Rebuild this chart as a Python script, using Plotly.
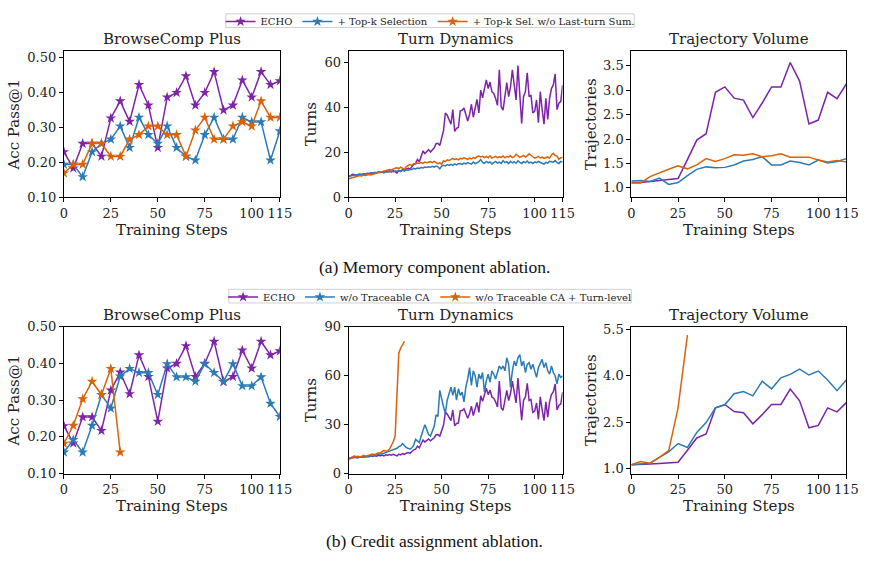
import plotly.graph_objects as go

# ---------------- data ----------------
bc_steps = [0, 5, 10, 15, 20, 25, 30, 35, 40, 45, 50, 55, 60, 65, 70, 75, 80, 85, 90, 95, 100, 105, 110, 115]
turn_steps = list(range(0, 116))
x_tick_vals = [0, 25, 50, 75, 100, 115]

# (a) memory component ablation
bc_echo = [0.230, 0.183, 0.254, 0.254, 0.217, 0.327, 0.376, 0.317, 0.423, 0.364, 0.242, 0.387,
           0.400, 0.448, 0.364, 0.400, 0.460, 0.350, 0.364, 0.436, 0.387, 0.460, 0.423, 0.434]
bc_topk = [0.194, 0.194, 0.158, 0.230, 0.254, 0.266, 0.304, 0.242, 0.329, 0.279, 0.254, 0.304,
           0.242, 0.217, 0.206, 0.279, 0.329, 0.266, 0.266, 0.329, 0.316, 0.316, 0.206, 0.290]
bc_topk_nosum = [0.169, 0.194, 0.194, 0.254, 0.254, 0.217, 0.217, 0.266, 0.279, 0.304, 0.304, 0.279,
                 0.279, 0.217, 0.292, 0.329, 0.266, 0.266, 0.304, 0.316, 0.304, 0.376, 0.329, 0.329]

turns_echo = [9.3, 9.5, 10.2, 10.0, 10.1, 9.8, 10.3, 10.0, 10.4, 10.2,
              10.6, 10.3, 10.8, 10.5, 11.0, 10.7, 11.2, 11.0, 11.3, 10.8,
              11.5, 11.2, 11.7, 11.3, 11.8, 11.4, 10.8, 11.9, 11.5, 12.2,
              11.8, 12.5, 12.9, 12.4, 13.8, 14.6, 15.0, 16.8, 15.8, 18.5,
              20.6, 19.4, 20.5, 21.2, 20.1, 21.0, 22.0, 23.8, 24.0, 23.0,
              25.9, 29.6, 37.5, 36.5, 34.5, 32.5, 39.0, 29.3, 30.7, 31.0,
              38.5, 38.7, 39.7, 37.0, 33.9, 36.8, 41.4, 35.6, 39.0, 43.6,
              37.5, 47.7, 44.3, 49.0, 52.3, 48.4, 51.3, 47.0, 46.2, 44.0,
              40.9, 56.8, 40.3, 38.8, 45.0, 51.0, 44.8, 49.1, 56.7, 50.0,
              43.3, 58.6, 46.2, 32.8, 44.8, 47.0, 55.4, 44.8, 45.5, 37.5,
              38.3, 43.3, 33.2, 47.0, 39.0, 32.5, 44.0, 34.6, 44.0, 48.4,
              50.0, 54.9, 39.0, 41.9, 42.6, 49.9]
turns_topk = [9.3, 9.5, 9.8, 10.0, 9.9, 10.1, 10.2, 10.0, 10.3, 10.4,
              10.2, 10.5, 10.4, 10.7, 10.6, 10.9, 10.8, 11.0, 11.2, 11.0,
              11.3, 11.4, 11.2, 11.5, 11.3, 11.6, 11.4, 11.8, 11.5, 12.0,
              11.7, 12.2, 12.0, 12.4, 12.3, 12.8, 12.6, 13.0, 12.8, 13.2,
              13.0, 13.4, 13.2, 13.5, 13.3, 13.7, 13.4, 13.8, 13.5, 12.6,
              13.8, 14.2, 13.9, 14.5, 14.1, 14.6, 14.2, 14.8, 14.4, 14.9,
              15.0, 14.6, 15.2, 14.8, 15.4, 15.0, 14.7, 15.6, 14.9, 15.3,
              15.8, 16.8, 15.5, 15.1, 15.9, 15.3, 15.7, 14.8, 15.5, 15.9,
              15.2, 15.6, 15.0, 16.2, 15.4, 15.8, 14.9, 16.0, 15.3, 15.7,
              15.1, 16.2, 15.5, 15.0, 15.8, 15.4, 16.1, 15.2, 15.6, 15.0,
              15.7, 15.4, 15.9, 15.3, 15.1, 14.7, 15.5, 15.2, 16.0, 15.8,
              15.6, 16.3, 15.4, 15.0, 15.9, 15.6]
turns_topk_nosum = [8.2, 8.3, 8.6, 8.9, 9.2, 9.3, 9.6, 9.4, 9.8, 9.7,
                    10.0, 10.1, 9.9, 10.3, 10.4, 10.6, 10.8, 11.0, 11.3, 11.4,
                    11.7, 11.9, 12.3, 12.1, 12.6, 12.9, 13.1, 12.7, 13.4, 13.0,
                    12.4, 13.6, 14.2, 14.6, 14.1, 15.0, 14.8, 15.2, 15.1, 15.4,
                    15.0, 15.6, 15.3, 15.7, 15.8, 15.4, 15.9, 15.5, 14.8, 15.3,
                    14.6, 16.2, 15.8, 16.6, 16.3, 16.8, 17.2, 16.8, 17.1, 16.6,
                    17.3, 17.0, 17.5, 17.2, 16.8, 17.4, 17.0, 17.6, 17.3, 18.0,
                    18.3, 17.9, 18.2, 17.6, 18.1, 17.5, 18.4, 17.4, 17.8, 18.2,
                    17.6, 18.0, 17.7, 18.3, 17.5, 18.1, 17.8, 18.5, 17.6, 18.0,
                    19.1, 18.3, 17.7, 18.2, 18.6, 17.9, 18.4, 19.3, 18.5, 18.0,
                    17.4, 17.8, 18.1, 17.5, 17.8, 17.3, 17.7, 18.0, 17.4, 18.8,
                    19.5, 18.6, 18.3, 16.8, 17.5, 17.7]

traj_echo = [1.11, 1.11, 1.13, 1.15, 1.18, 1.19, 1.58, 1.98, 2.11, 2.96, 3.07, 2.84,
             2.80, 2.44, 2.74, 3.07, 3.07, 3.57, 3.19, 2.31, 2.39, 2.96, 2.83, 3.13]
traj_topk = [1.14, 1.15, 1.13, 1.20, 1.07, 1.11, 1.25, 1.38, 1.43, 1.41, 1.42, 1.47,
             1.55, 1.58, 1.64, 1.47, 1.47, 1.55, 1.52, 1.47, 1.57, 1.51, 1.54, 1.60]
traj_topk_nosum = [1.10, 1.10, 1.23, 1.31, 1.38, 1.45, 1.39, 1.47, 1.60, 1.54, 1.60, 1.68,
                   1.67, 1.70, 1.64, 1.66, 1.70, 1.63, 1.63, 1.63, 1.57, 1.53, 1.56, 1.53]

# (b) credit assignment ablation
bc_notrace = [0.158, 0.192, 0.158, 0.231, 0.315, 0.278, 0.365, 0.386, 0.375, 0.375, 0.315, 0.399,
              0.363, 0.363, 0.351, 0.399, 0.375, 0.351, 0.399, 0.339, 0.339, 0.363, 0.291, 0.255]
bc_notrace_turn = [0.182, 0.231, 0.303, 0.351, 0.315, 0.386, 0.158]

turns_notrace = [9.2, 9.4, 9.6, 9.8, 10.0, 9.7, 10.1, 10.3, 10.0, 10.5,
                 10.4, 10.8, 11.0, 10.7, 11.3, 11.5, 11.8, 12.2, 12.0, 12.6,
                 13.0, 13.3, 13.8, 14.2, 14.5, 15.0, 15.5, 16.5, 17.0, 18.4,
                 17.0, 16.0, 15.5, 15.0, 15.8, 17.5, 21.0, 20.0, 19.0, 23.0,
                 27.0, 30.0, 27.0, 24.0, 23.0, 26.0, 29.0, 36.0, 35.0, 51.0,
                 45.0, 41.0, 37.0, 45.0, 49.0, 53.0, 48.0, 53.0, 45.0, 52.0,
                 48.0, 50.0, 44.0, 53.0, 58.0, 65.0, 54.0, 63.0, 60.0, 53.0,
                 61.0, 58.0, 62.0, 50.0, 57.0, 61.0, 56.0, 63.0, 61.0, 58.0,
                 62.0, 66.0, 64.0, 66.0, 63.0, 71.0, 67.0, 53.0, 63.0, 69.0,
                 66.0, 71.0, 73.0, 66.0, 69.0, 62.0, 67.0, 68.0, 64.0, 67.0,
                 63.0, 59.0, 65.0, 68.0, 70.0, 65.0, 68.0, 63.0, 61.0, 66.0,
                 62.0, 60.0, 55.0, 61.0, 59.0, 60.0]
turns_notrace_turn = [8.8, 9.0, 9.5, 10.8, 10.3, 10.6, 10.2, 10.5, 11.2, 10.7,
                      11.0, 11.3, 11.8, 12.0, 11.6, 12.3, 12.8, 12.5, 13.5, 14.2,
                      13.8, 14.0, 15.0, 17.0, 19.5, 23.0, 45.0, 74.0, 77.0, 79.0,
                      81.0]

traj_notrace = [1.11, 1.14, 1.16, 1.35, 1.53, 1.80, 1.67, 2.16, 2.48, 2.96, 3.06, 3.42,
                3.49, 3.35, 3.83, 3.58, 3.94, 4.05, 4.22, 4.03, 4.16, 3.87, 3.52, 3.87]
traj_notrace_turn = [1.11, 1.21, 1.16, 1.35, 1.57, 2.96, 5.33]

names_a = ["ECHO", "+ Top-k Selection", "+ Top-k Sel. w/o Last-turn Sum."]
names_b = ["ECHO", "w/o Traceable CA", "w/o Traceable CA + Turn-level"]
panel_titles = ["BrowseComp Plus", "Turn Dynamics", "Trajectory Volume"]
y_titles = ["Acc Pass@1", "Turns", "Trajectories"]
captions = ["(a) Memory component ablation.", "(b) Credit assignment ablation."]

# ---------------- style ----------------
PURPLE = "#7e24a8"
BLUE = "#2a7bb6"
ORANGE = "#d9620a"
colors = [PURPLE, BLUE, ORANGE]
FONT = "DejaVu Serif"
W, H = 876, 566

col_px = [(61, 281), (351, 569), (639, 858)]
row_px = [(45.5, 195.3), (328.5, 479.3)]

fig = go.Figure()

def ax_id(i):
    return "" if i == 1 else str(i)

def add_line(i, x, y, name, color, legend, show, marker):
    fig.add_trace(go.Scatter(
        x=x, y=y, name=name, mode="lines+markers" if marker else "lines",
        line=dict(color=color, width=1.5),
        marker=dict(symbol="star", size=8, color=color) if marker else None,
        xaxis="x" + ax_id(i), yaxis="y" + ax_id(i),
        legend=legend, showlegend=show))

rows = [
    dict(bc=[bc_echo, bc_topk, bc_topk_nosum],
         turns=[turns_echo, turns_topk, turns_topk_nosum],
         traj=[traj_echo, traj_topk, traj_topk_nosum], names=names_a, legend="legend"),
    dict(bc=[bc_echo, bc_notrace, bc_notrace_turn],
         turns=[turns_echo, turns_notrace, turns_notrace_turn],
         traj=[traj_echo, traj_notrace, traj_notrace_turn], names=names_b, legend="legend2"),
]

for r, rd in enumerate(rows):
    base = r * 3
    for k in range(3):
        ys = rd["bc"][k]
        add_line(base + 1, bc_steps[:len(ys)], ys, rd["names"][k], colors[k], rd["legend"], True, True)
    for k in range(3):
        ys = rd["turns"][k]
        add_line(base + 2, turn_steps[:len(ys)], ys, rd["names"][k], colors[k], rd["legend"], False, False)
    for k in range(3):
        ys = rd["traj"][k]
        add_line(base + 3, bc_steps[:len(ys)], ys, rd["names"][k], colors[k], rd["legend"], False, False)

y_specs = [
    dict(range=[0.10, 0.519], tickvals=[0.10, 0.20, 0.30, 0.40, 0.50], tickformat=".2f"),
    dict(range=[0, 65], tickvals=[0, 20, 40, 60], tickformat="d"),
    dict(range=[0.81, 3.80], tickvals=[1.0, 1.5, 2.0, 2.5, 3.0, 3.5], tickformat=".1f"),
    dict(range=[0.10, 0.50], tickvals=[0.10, 0.20, 0.30, 0.40, 0.50], tickformat=".2f"),
    dict(range=[0, 90], tickvals=[0, 30, 60, 90], tickformat="d"),
    dict(range=[0.82, 5.60], tickvals=[1.0, 2.5, 4.0, 5.5], tickformat=".1f"),
]

layout = dict(width=W, height=H, margin=dict(l=0, r=0, t=0, b=0),
              paper_bgcolor="white", plot_bgcolor="white",
              font=dict(family=FONT, size=13, color="#222222"))
annotations = []
common_axis = dict(showline=True, linecolor="black", linewidth=1, mirror=True,
                   ticks="outside", ticklen=4, tickwidth=1, tickcolor="black",
                   showgrid=False, zeroline=False,
                   tickfont=dict(family=FONT, size=13, color="#222222"))

y_standoff = [4, 4, 2]
for i in range(1, 7):
    r = (i - 1) // 3
    c = (i - 1) % 3
    x0, x1 = col_px[c]
    t0, t1 = row_px[r]
    xd = [x0 / W, x1 / W]
    yd = [1 - t1 / H, 1 - t0 / H]
    layout["xaxis" + ax_id(i)] = dict(common_axis, domain=xd, anchor="y" + ax_id(i),
                                      range=[0, 115], tickvals=x_tick_vals,
                                      title=dict(text="Training Steps", standoff=2,
                                                 font=dict(family=FONT, size=15, color="#222222")))
    layout["yaxis" + ax_id(i)] = dict(common_axis, domain=yd, anchor="x" + ax_id(i),
                                      title=dict(text=y_titles[c], standoff=y_standoff[c],
                                                 font=dict(family=FONT, size=15, color="#222222")),
                                      **y_specs[i - 1])
    annotations.append(dict(text=panel_titles[c], x=(xd[0] + xd[1]) / 2, xref="paper",
                            y=1 - (t0 - 12.5) / H, yref="paper", xanchor="center", yanchor="middle",
                            showarrow=False, font=dict(family=FONT, size=15, color="#222222")))

for r, ypx in enumerate([267.5, 549]):
    annotations.append(dict(text=captions[r], x=0.5, xref="paper", y=1 - ypx / H, yref="paper",
                            xanchor="center", yanchor="middle", showarrow=False,
                            font=dict(family="Liberation Serif", size=17.5, color="#111111")))

layout["annotations"] = annotations

# legend frames (matplotlib-style compact boxes)
frames = [(226, 642, 7, 21), (229, 639, 290, 304)]
layout["shapes"] = [dict(type="rect", xref="paper", yref="paper",
                         x0=a / W, x1=b / W, y0=1 - d / H, y1=1 - t / H,
                         line=dict(color="#d0d0d0", width=1), fillcolor="rgba(255,255,255,0.8)",
                         layer="below")
                    for (a, b, t, d) in frames]

leg_common = dict(orientation="h", xanchor="center", yanchor="top", xref="paper", yref="paper",
                  font=dict(family=FONT, size=10, color="#222222"),
                  borderwidth=0, bgcolor="rgba(0,0,0,0)",
                  itemwidth=30, traceorder="normal")
layout["legend"] = dict(leg_common, x=434 / W, y=1.0)
layout["legend2"] = dict(leg_common, x=434 / W, y=1 - 283 / H)

fig.update_layout(**layout)
fig.write_html("out.html")
